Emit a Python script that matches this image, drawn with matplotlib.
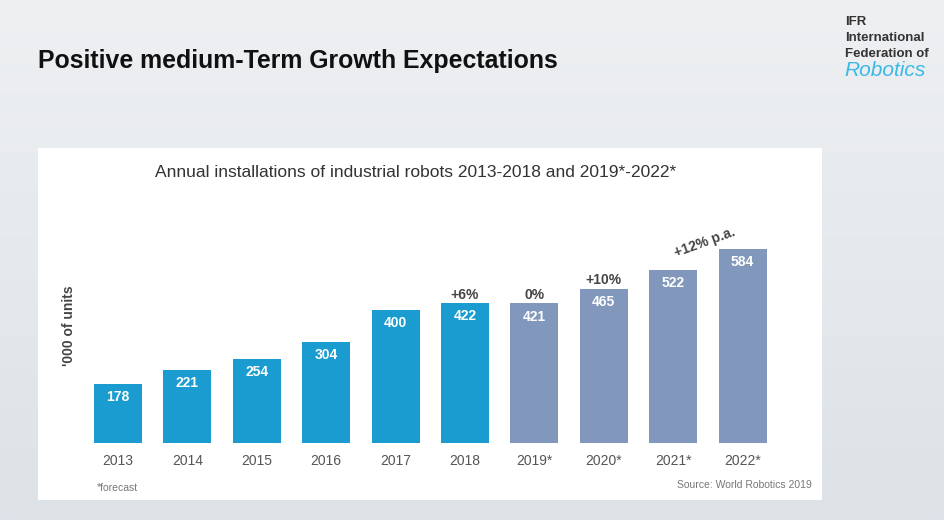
import matplotlib.pyplot as plt
import numpy as np
from matplotlib.colors import LinearSegmentedColormap

plt.rcParams['font.family'] = ['Liberation Sans', 'DejaVu Sans']

# ---- data ----
years = ['2013', '2014', '2015', '2016', '2017', '2018',
         '2019*', '2020*', '2021*', '2022*']
values = [178, 221, 254, 304, 400, 422, 421, 465, 522, 584]
is_forecast = [False, False, False, False, False, False, True, True, True, True]
growth = ['', '', '', '', '', '+6%', '0%', '+10%', '', '']
cagr_label = '+12% p.a.'

W, H = 944, 520
fig = plt.figure(figsize=(W / 100, H / 100), dpi=100)

def fx(x):
    return x / W

def fy(y):
    return 1 - y / H

# background gradient
bg = fig.add_axes([0, 0, 1, 1])
grad = np.linspace(0, 1, 256).reshape(-1, 1)
cmap_bg = LinearSegmentedColormap.from_list('bg', ['#eef0f2', '#dde2e7'])
bg.imshow(grad, aspect='auto', cmap=cmap_bg, extent=[0, 1, 0, 1])
bg.set_axis_off()

# panel axes
px0, px1, py0, py1 = 38, 822, 148, 500
ax = fig.add_axes([fx(px0), fy(py1), (px1 - px0) / W, (py1 - py0) / H])
x0c, step = 118, 69.4
base_y, scale = 443, 0.332
ax.set_xlim((px0 - x0c) / step, (px1 - x0c) / step)
ax.set_ylim((base_y - py1) / scale, (base_y - py0) / scale)
ax.set_facecolor('white')
for s in ax.spines.values():
    s.set_visible(False)
ax.set_xticks([])
ax.set_yticks([])

blue = '#1a9cd0'
slate = '#8198bc'
colors = [slate if f else blue for f in is_forecast]
xs = np.arange(len(values))
ax.bar(xs, values, width=0.69, color=colors, zorder=2)

for i, (v, g, yr) in enumerate(zip(values, growth, years)):
    ax.text(i, v - 40, str(v), ha='center', va='center', color='white',
            fontsize=10, fontweight='bold', zorder=3)
    ax.text(i, -54, yr, ha='center', va='center', color='#555555', fontsize=10)
    if g:
        ax.text(i, v + 25, g, ha='center', va='center', color='#444444',
                fontsize=10, fontweight='bold')

ax.text(8.46, 605, cagr_label, ha='center', va='center', rotation=20,
        color='#444444', fontsize=10, fontweight='bold')

# texts
fig.text(fx(416), fy(173), 'Annual installations of industrial robots 2013-2018 and 2019*-2022*',
         ha='center', va='center', fontsize=12.5, color='#333333')
fig.text(fx(69), fy(326), "'000 of units", rotation=90, ha='center', va='center',
         fontsize=10, fontweight='bold', color='#444444')
fig.text(fx(97), fy(488), '*forecast', ha='left', va='center', fontsize=7.5, color='#777777')
fig.text(fx(812), fy(485), 'Source: World Robotics 2019', ha='right', va='center',
         fontsize=7.5, color='#777777')

fig.text(fx(38), fy(61), 'Positive medium-Term Growth Expectations', ha='left', va='center',
         fontsize=17.9, fontweight='bold', color='#111111')

# logo
for yy, t in [(22, 'IFR'), (38, 'International'), (54, 'Federation of')]:
    fig.text(fx(845), fy(yy), t, ha='left', va='center', fontsize=9.5,
             fontweight='bold', color='#333333')
fig.text(fx(844), fy(71), 'Robotics', ha='left', va='center', fontsize=15, style='italic',
         color='#3cb8e6')

fig.savefig('out.png', dpi=100)
